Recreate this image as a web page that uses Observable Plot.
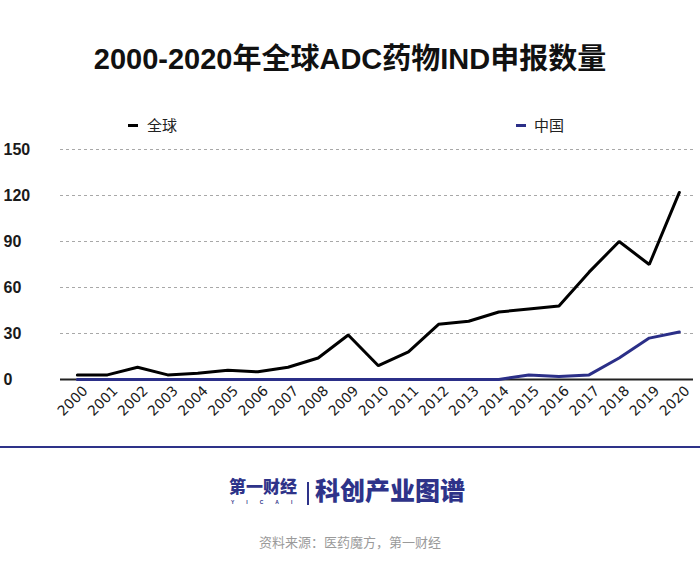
<!DOCTYPE html>
<html>
<head>
<meta charset="utf-8">
<script src="https://cdn.jsdelivr.net/npm/d3@7"></script>
<script src="https://cdn.jsdelivr.net/npm/@observablehq/plot@0.6"></script>
<style>
  html, body { margin: 0; padding: 0; background: #fff; }
  #page { position: relative; width: 700px; height: 563px; overflow: hidden; background: #fff; }
  .abs { position: absolute; white-space: nowrap; }
  #title { left: 0; width: 700px; top: 42px; text-align: center; font-family: "Liberation Sans", "Noto Sans CJK SC", sans-serif; font-weight: bold; font-size: 29px; line-height: 34px; color: #111; }
  .leg { font-family: "Noto Sans CJK SC", sans-serif; font-size: 15px; line-height: 20px; color: #222; }
  .dash { position: absolute; width: 10px; height: 3px; }
  #chart { position: absolute; left: 0; top: 100px; }
  #rule { left: 0; top: 446px; width: 700px; height: 2px; background: #2e3389; }
  .logo { font-family: "Noto Sans CJK SC", sans-serif; font-weight: 900; color: #2e3389; }
  #source { left: 0; width: 700px; top: 533px; text-align: center; font-family: "Noto Sans CJK SC", sans-serif; font-size: 13px; line-height: 18px; color: #9a9a9a; }
</style>
</head>
<body>
<div id="page">
  <div id="title" class="abs">2000-2020年全球ADC药物IND申报数量</div>
  <div id="legend"></div>
  <div id="chart"></div>
  <div id="rule" class="abs"></div>
  <div class="abs logo" style="left:229px; top:476px; font-size:17px; line-height:19px;">第一财经</div>
  <div class="abs logo" style="left:231px; top:500px; font-size:5px; line-height:5px; letter-spacing:12px; font-family:'Liberation Sans',sans-serif;">YICAI</div>
  <div class="abs" style="left:307px; top:482px; width:2px; height:23px; background:#2e3389;"></div>
  <div class="abs logo" style="left:315px; top:473px; font-size:25px; line-height:32px;">科创产业图谱</div>
  <div id="source" class="abs">资料来源：医药魔方，第一财经</div>
</div>
<script>
const years = [2000, 2001, 2002, 2003, 2004, 2005, 2006, 2007, 2008, 2009, 2010, 2011, 2012, 2013, 2014, 2015, 2016, 2017, 2018, 2019, 2020];
const globalCounts = [3, 3, 8, 3, 4, 6, 5, 8, 14, 29, 9, 18, 36, 38, 44, 46, 48, 70, 90, 75, 122];
const chinaCounts = [0, 0, 0, 0, 0, 0, 0, 0, 0, 0, 0, 0, 0, 0, 0, 3, 2, 3, 14, 27, 31];
const seriesNames = ["全球", "中国"];
const seriesColors = ["#000000", "#2b2f88"];
const yTicks = [0, 30, 60, 90, 120, 150];
const gridTicks = [30, 60, 90, 120, 150];

const rows = [];
years.forEach((y, i) => {
  rows.push({year: y, value: globalCounts[i], series: seriesNames[0]});
  rows.push({year: y, value: chinaCounts[i], series: seriesNames[1]});
});

const chart = Plot.plot({
  width: 700,
  height: 360,
  marginTop: 49,
  marginBottom: 81,
  marginLeft: 60,
  marginRight: 7,
  style: {background: "transparent", fontFamily: "'DejaVu Sans', sans-serif", color: "#1a1a1a"},
  x: {domain: [1999.44, 2020.47], label: null},
  y: {domain: [0, 150], label: null},
  color: {domain: seriesNames, range: seriesColors},
  marks: [
    Plot.ruleY(gridTicks, {stroke: "#a8a8a8", strokeWidth: 1, strokeDasharray: "3,3"}),
    Plot.ruleY([0], {stroke: "#222", strokeWidth: 2}),
    Plot.axisY({ticks: yTicks, tickSize: 0, tickPadding: 0, textAnchor: "start", dx: -57, fontSize: 16, fontWeight: "bold", fontFamily: "'Liberation Sans', sans-serif", label: null}),
    Plot.axisX({ticks: years, tickFormat: d => String(d), tickSize: 0, tickPadding: 0, tickRotate: -45, textAnchor: "end", lineAnchor: "middle", dx: 8, dy: 9, fontSize: 14, fontFamily: "'DejaVu Sans', sans-serif", label: null}),
    Plot.line(rows, {x: "year", y: "value", z: "series", stroke: "series", strokeWidth: 3, strokeLinejoin: "miter"})
  ]
});
document.getElementById("chart").appendChild(chart);

// legend
const legend = document.getElementById("legend");
const legPos = [{dash: 128, text: 147}, {dash: 516, text: 534}];
seriesNames.forEach((name, i) => {
  const d = document.createElement("div");
  d.className = "dash";
  d.style.left = legPos[i].dash + "px";
  d.style.top = "124px";
  d.style.background = seriesColors[i];
  legend.appendChild(d);
  const t = document.createElement("div");
  t.className = "abs leg";
  t.style.left = legPos[i].text + "px";
  t.style.top = "115px";
  t.textContent = name;
  legend.appendChild(t);
});
</script>
</body>
</html>
